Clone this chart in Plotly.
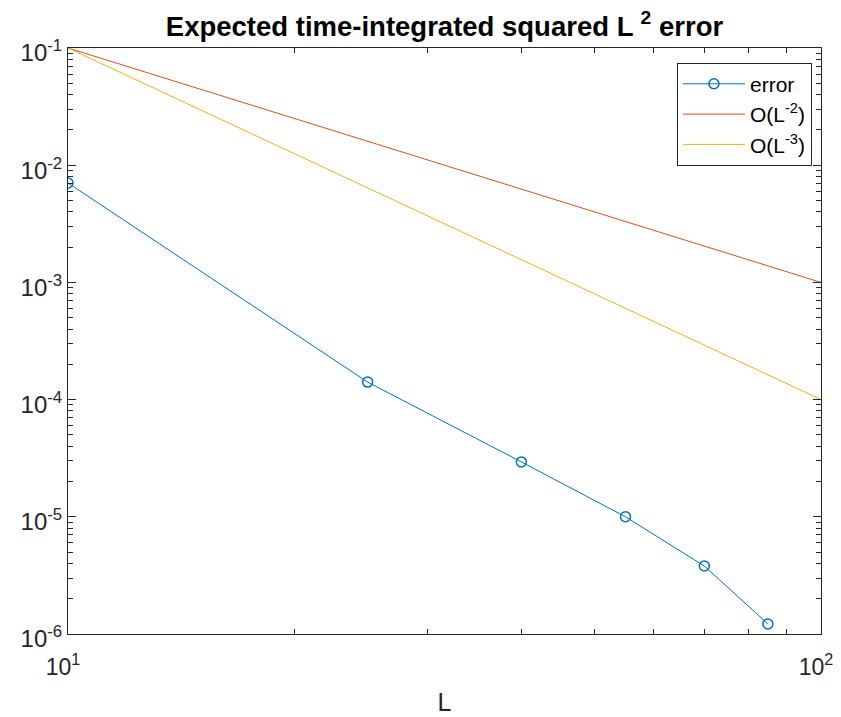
import numpy as np
import plotly.graph_objects as go

L_vals = [10, 25, 40, 55, 70, 85]
err_vals = [7.05e-3, 1.41e-4, 2.94e-5, 1.0e-5, 3.8e-6, 1.22e-6]
ref_L = [10, 100]
ref2 = [1e-1, 1e-3]
ref3 = [1e-1, 1e-4]

xticks = [10, 100]
xticktext = ["10<sup>1</sup>", "10<sup>2</sup>"]
yticks = [1e-6, 1e-5, 1e-4, 1e-3, 1e-2, 1e-1]
yticktext = ["10<sup>-6</sup>", "10<sup>-5</sup>", "10<sup>-4</sup>",
             "10<sup>-3</sup>", "10<sup>-2</sup>", "10<sup>-1</sup>"]

x_minor = [m * 10 for m in range(2, 10)]
y_minor = [m * 10.0 ** e for e in range(-6, -1) for m in range(2, 10)]

FONT = "Liberation Sans, Arial, Helvetica"
AX = "#262626"

# page body has an 8px default margin, so the figure is 8px smaller
W, H = 833, 709

fig = go.Figure()
fig.add_trace(go.Scatter(x=L_vals, y=err_vals, mode="lines+markers", name="error",
                         line=dict(color="#0072BD", width=1),
                         marker=dict(symbol="circle-open", size=10, color="#0072BD",
                                     line=dict(width=1.5, color="#0072BD"))))
fig.add_trace(go.Scatter(x=ref_L, y=ref2, mode="lines", name="O(L<sup>-2</sup>)",
                         line=dict(color="#D95319", width=1)))
fig.add_trace(go.Scatter(x=ref_L, y=ref3, mode="lines", name="O(L<sup>-3</sup>)",
                         line=dict(color="#EDB120", width=1)))

axis_common = dict(type="log", showgrid=False, zeroline=False, showline=True,
                   linecolor=AX, linewidth=1, mirror="ticks", automargin=False,
                   ticks="inside", ticklen=8, tickcolor=AX, tickwidth=1)

fig.update_xaxes(range=[1, 2], tickvals=xticks, ticktext=xticktext,
                 tickfont=dict(family=FONT, size=23, color=AX),
                 ticklabelstandoff=12, ticklabelshift=-5,
                 minor=dict(tickmode="array", tickvals=x_minor, ticks="inside",
                            ticklen=5, tickcolor=AX, showgrid=False),
                 title=dict(text="L", font=dict(family=FONT, size=25, color=AX),
                            standoff=14),
                 **axis_common)
fig.update_yaxes(range=[-6, -1], tickvals=yticks, ticktext=yticktext,
                 tickfont=dict(family=FONT, size=24, color=AX),
                 ticklabelshift=5,
                 minor=dict(tickmode="array", tickvals=y_minor, ticks="inside",
                            ticklen=5, tickcolor=AX, showgrid=False),
                 **axis_common)

fig.update_layout(
    width=W, height=H,
    margin=dict(l=60, r=20, t=40, b=83),
    paper_bgcolor="white", plot_bgcolor="white",
    title=dict(text="<b>Expected time-integrated squared L <sup>2</sup> error</b>",
               x=(60 + 60 + 753) / 2 / W, xanchor="center", y=1 - 18 / H, yanchor="middle",
               font=dict(family=FONT, size=27.5, color="black")),
    legend=dict(x=0.988, y=0.975, xanchor="right", yanchor="top",
                bgcolor="white", bordercolor=AX, borderwidth=1,
                font=dict(family=FONT, size=21, color="black"),
                itemwidth=62, tracegroupgap=0),
    showlegend=True,
)

fig.write_html("out.html")
